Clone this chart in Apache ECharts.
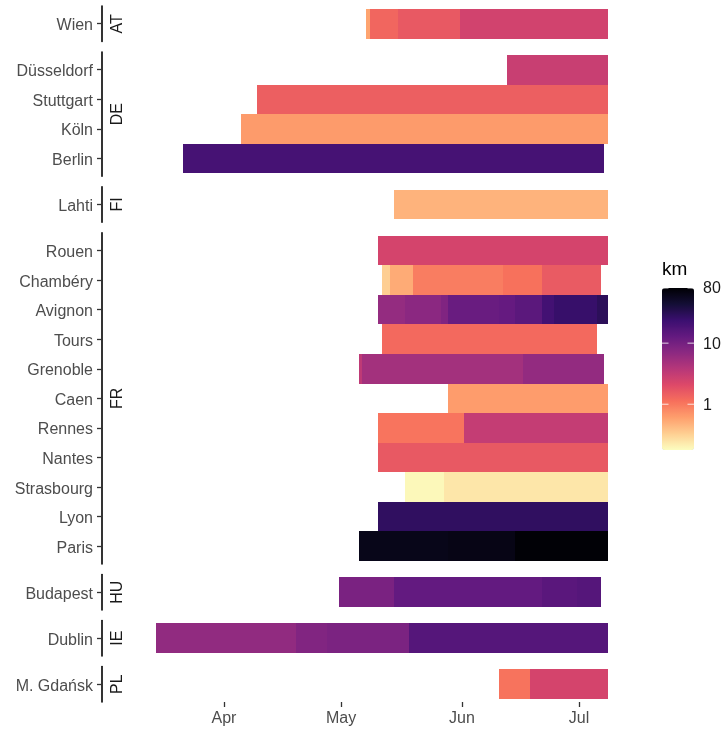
<!DOCTYPE html>
<html><head><meta charset="utf-8">
<script src="https://cdn.jsdelivr.net/npm/echarts@6/dist/echarts.min.js"></script>
<style>html,body{margin:0;padding:0;background:#fff}#c{width:724px;height:729px}</style>
</head><body><div id="c"></div>
<script>
// ---------------- data ----------------
const countries = ['AT', 'DE', 'FI', 'FR', 'HU', 'IE', 'PL'];
const citiesAT = ['Wien'];
const citiesDE = ['Düsseldorf', 'Stuttgart', 'Köln', 'Berlin'];
const citiesFI = ['Lahti'];
const citiesFR = ['Rouen', 'Chambéry', 'Avignon', 'Tours', 'Grenoble', 'Caen', 'Rennes', 'Nantes', 'Strasbourg', 'Lyon', 'Paris'];
const citiesHU = ['Budapest'];
const citiesIE = ['Dublin'];
const citiesPL = ['M. Gdańsk'];
const cityGroups = [citiesAT, citiesDE, citiesFI, citiesFR, citiesHU, citiesIE, citiesPL];

// [city, first day, last day, km]   (year 2020)
const segments = [
  ['Wien', '05-08', '05-08', 0.57],
  ['Wien', '05-09', '05-15', 1.3],
  ['Wien', '05-16', '05-31', 1.59],
  ['Wien', '06-01', '07-08', 2.5],
  ['Düsseldorf', '06-13', '07-08', 2.9],
  ['Stuttgart', '04-10', '07-08', 1.45],
  ['Köln', '04-06', '07-08', 0.64],
  ['Berlin', '03-22', '07-07', 20],
  ['Lahti', '05-15', '07-08', 0.47],
  ['Rouen', '05-11', '07-08', 2.4],
  ['Chambéry', '05-12', '05-13', 0.33],
  ['Chambéry', '05-14', '05-19', 0.52],
  ['Chambéry', '05-20', '06-11', 0.94],
  ['Chambéry', '06-12', '06-21', 1.1],
  ['Chambéry', '06-22', '07-06', 1.55],
  ['Avignon', '05-11', '05-17', 6.2],
  ['Avignon', '05-18', '05-26', 7.1],
  ['Avignon', '05-27', '05-28', 8.4],
  ['Avignon', '05-29', '06-10', 11.9],
  ['Avignon', '06-11', '06-14', 12.6],
  ['Avignon', '06-15', '06-21', 14.7],
  ['Avignon', '06-22', '06-24', 21],
  ['Avignon', '06-25', '07-05', 25],
  ['Avignon', '07-06', '07-08', 30],
  ['Tours', '05-12', '07-05', 1.24],
  ['Grenoble', '05-06', '05-06', 3.4],
  ['Grenoble', '05-07', '06-16', 5.0],
  ['Grenoble', '06-17', '07-07', 6.3],
  ['Caen', '05-29', '07-08', 0.63],
  ['Rennes', '05-11', '06-01', 1.05],
  ['Rennes', '06-02', '07-08', 3.1],
  ['Nantes', '05-11', '07-08', 1.6],
  ['Strasbourg', '05-18', '05-27', 0.19],
  ['Strasbourg', '05-28', '07-08', 0.24],
  ['Lyon', '05-11', '07-08', 28],
  ['Paris', '05-06', '05-28', 62],
  ['Paris', '05-29', '06-14', 65],
  ['Paris', '06-15', '07-08', 78],
  ['Budapest', '05-01', '05-14', 9.1],
  ['Budapest', '05-15', '06-21', 13],
  ['Budapest', '06-22', '06-30', 14.8],
  ['Budapest', '07-01', '07-06', 16],
  ['Dublin', '03-15', '04-19', 6.5],
  ['Dublin', '04-20', '04-27', 8.2],
  ['Dublin', '04-28', '05-18', 9],
  ['Dublin', '05-19', '07-08', 16],
  ['M. Gdańsk', '06-11', '06-18', 1.07],
  ['M. Gdańsk', '06-19', '07-08', 2.4]
];

const monthTicks = ['04-01', '05-01', '06-01', '07-01'];
const monthLabels = ['Apr', 'May', 'Jun', 'Jul'];
const legendBreaks = [1, 10, 80];
const kmMin = 0.178, kmMax = 80;
const magma = ['#FCFDBF', '#FECF92', '#FE9F6D', '#F7705C', '#DE4968', '#B73779', '#8C2981', '#641A80', '#3B0F70', '#140E36', '#000004'];

(function () {
// ---------------- layout ----------------
const YEAR = 2020;
function dayNum(s) { const [m, d] = s.split('-').map(Number); return (Date.UTC(YEAR, m - 1, d) - Date.UTC(YEAR, 0, 1)) / 864e5; }
const FONT = 'Liberation Sans, Arial, sans-serif';
const plotLeft = 133, plotRight = 631, plotTop = 6, plotBottom = 702, panelGap = 10.5;
const axisX = 102, stripX = 118, labelShift = 0.07;
const totalUnits = cityGroups.reduce((a, g) => a + g.length + 0.2, 0);
const unit = (plotBottom - plotTop - panelGap * (cityGroups.length - 1)) / totalUnits;

const starts = segments.map(s => dayNum(s[1]) - 0.5);
const ends = segments.map(s => dayNum(s[2]) + 0.5);
const dMin = Math.min(...starts), dMax = Math.max(...ends);
const pad = 0.05 * (dMax - dMin);
const xMin = dMin - pad, xMax = dMax + pad;
const monthDays = monthTicks.map(dayNum);

function renderItem(params, api) {
  const y = api.value(0), s = api.value(1), e = api.value(2);
  const p0 = api.coord([s - 0.5, y]);
  const p1 = api.coord([e + 0.5, y]);
  const h = api.size([0, 1])[1];
  const x0 = Math.round(p0[0]), x1 = Math.round(p1[0]);
  const y0 = Math.round(p0[1] - h / 2), y1 = Math.round(p0[1] + h / 2);
  return { type: 'rect', shape: { x: x0, y: y0, width: x1 - x0, height: y1 - y0 },
    style: { fill: api.visual('color') } };
}

const grids = [], xAxes = [], yAxes = [], series = [], graphics = [];
let curTop = plotTop;
cityGroups.forEach((g, gi) => {
  const n = g.length;
  const h = (n + 0.2) * unit;
  grids.push({ left: plotLeft, width: plotRight - plotLeft, top: curTop, height: h, containLabel: false, outerBoundsMode: 'none' });
  graphics.push({ type: 'text', x: stripX, y: curTop + h / 2, rotation: Math.PI / 2,
    style: { text: countries[gi], fill: '#1A1A1A', font: '16px ' + FONT, align: 'center', verticalAlign: 'middle' } });
  curTop += h + panelGap;
  const last = gi === cityGroups.length - 1;
  xAxes.push({
    gridIndex: gi, type: 'value', min: xMin, max: xMax, show: last,
    axisLine: { show: false },
    axisTick: { show: true, customValues: monthDays, length: 5, lineStyle: { color: '#333', width: 1.3 } },
    axisLabel: { customValues: monthDays, formatter: v => monthLabels[monthDays.indexOf(v)] || '',
      color: '#4D4D4D', fontSize: 16, fontFamily: FONT, margin: 9 },
    splitLine: { show: false }
  });
  const ticks = g.map((c, i) => i + 1);
  yAxes.push({
    gridIndex: gi, type: 'value', inverse: true, min: 0.4, max: n + 0.6, offset: plotLeft - axisX,
    axisLine: { show: true, lineStyle: { color: '#000', width: 1.6 } },
    axisTick: { show: true, customValues: ticks, length: 5, lineStyle: { color: '#333', width: 1.3 } },
    axisLabel: { customValues: ticks.map(t => t + labelShift), formatter: v => g[Math.round(v) - 1] || '',
      color: '#4D4D4D', fontSize: 16, fontFamily: FONT, margin: 9 },
    splitLine: { show: false }
  });
  const data = segments.filter(s => g.includes(s[0])).map(s =>
    [g.indexOf(s[0]) + 1, dayNum(s[1]), dayNum(s[2]), Math.log10(s[3]), s[3]]);
  series.push({ type: 'custom', xAxisIndex: gi, yAxisIndex: gi, renderItem: renderItem,
    encode: { x: [1, 2], y: 0 }, data: data, silent: true });
});

// legend geometry
const lgLeft = 662, lgTop = 288, lgW = 32, lgH = 162;
const lMin = Math.log10(kmMin), lMax = Math.log10(kmMax);
graphics.push({ type: 'text', left: lgLeft, top: 260, style: { text: 'km', fill: '#000', font: '19px ' + FONT } });
legendBreaks.forEach(b => {
  const y = lgTop + (lMax - Math.log10(b)) / (lMax - lMin) * lgH;
  graphics.push({ type: 'line', shape: { x1: lgLeft, y1: y, x2: lgLeft + 6.5, y2: y }, style: { stroke: '#fff', lineWidth: 1, opacity: 0.8 }, z: 100 });
  graphics.push({ type: 'line', shape: { x1: lgLeft + lgW - 6.5, y1: y, x2: lgLeft + lgW, y2: y }, style: { stroke: '#fff', lineWidth: 1, opacity: 0.8 }, z: 100 });
  graphics.push({ type: 'text', x: lgLeft + lgW + 9, y: y + 1, style: { text: String(b), fill: '#1A1A1A', font: '16px ' + FONT, verticalAlign: 'middle' }, z: 100 });
});

const chart = echarts.init(document.getElementById('c'), null, { renderer: 'canvas' });
chart.setOption({
  animation: false,
  backgroundColor: '#fff',
  grid: grids, xAxis: xAxes, yAxis: yAxes, series: series,
  visualMap: {
    type: 'continuous', dimension: 3, min: lMin, max: lMax, seriesIndex: series.map((s, i) => i),
    inRange: { color: magma }, calculable: false, showLabel: false, text: null,
    left: lgLeft, top: lgTop, itemWidth: lgW, itemHeight: lgH, padding: 0, orient: 'vertical'
  },
  graphic: graphics
});
})();
</script></body></html>
